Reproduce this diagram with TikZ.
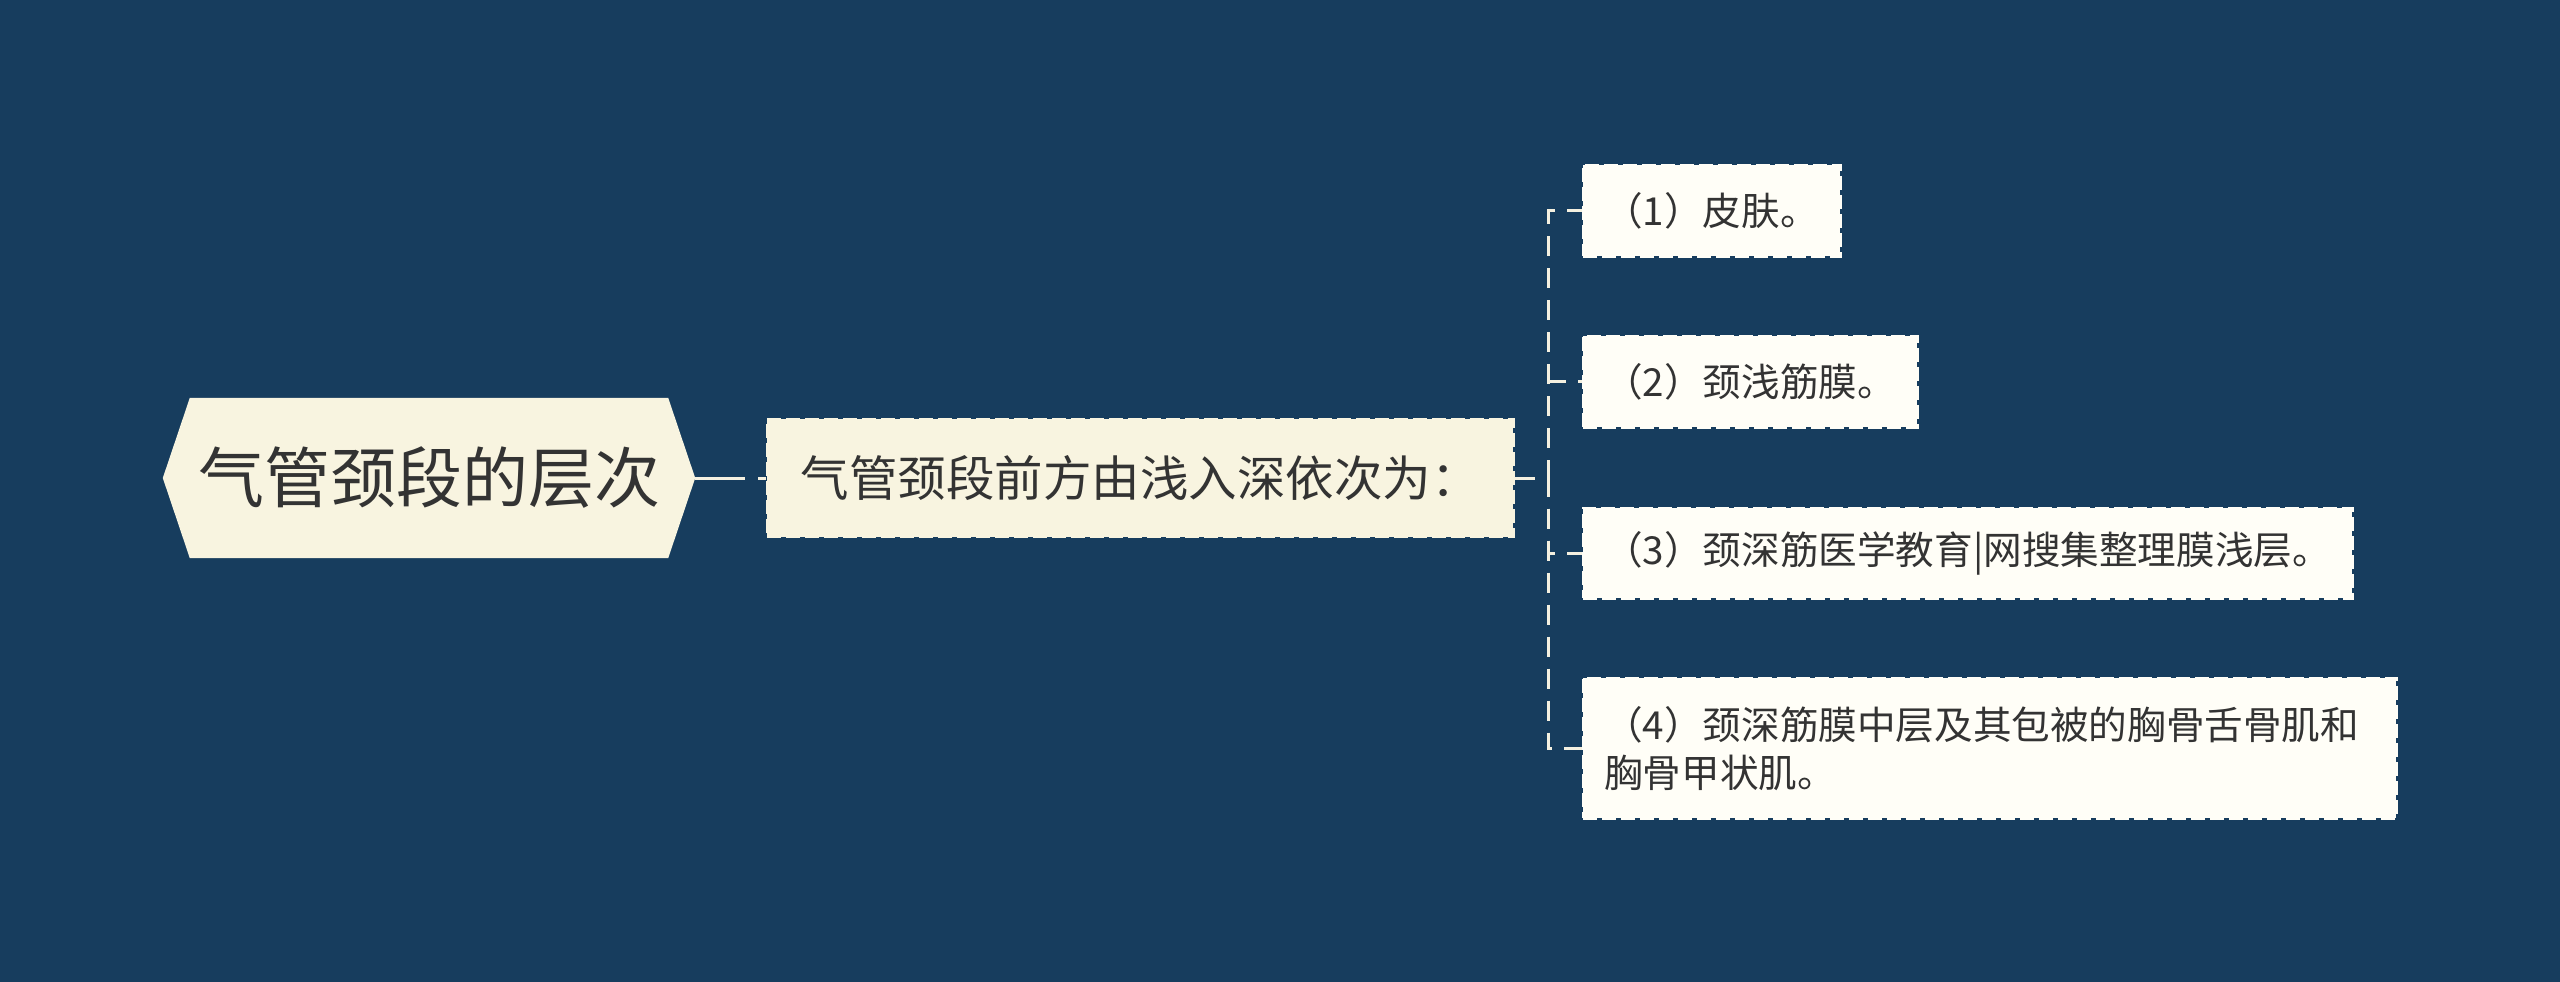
\documentclass[tikz,border=0pt]{standalone}
\usepackage{fontspec}
\setmainfont{Noto Sans CJK SC}
\usetikzlibrary{calc}
\definecolor{bgc}{HTML}{173D5E}
\definecolor{rootfill}{HTML}{F8F4E0}
\definecolor{leaffill}{HTML}{FFFEF7}
\definecolor{txt}{HTML}{333333}
\definecolor{linec}{HTML}{F4F0E0}
\pgfdeclarelayer{back}
\pgfsetlayers{back,main}
\tikzset{
  roottext/.style={inner sep=0pt, minimum width=532pt, minimum height=160pt, text=txt, font=\fontsize{66pt}{72pt}\selectfont},
  childbox/.style={draw=rootfill, fill=rootfill, line width=2.5pt, dash pattern=on 14pt off 5pt, inner sep=0pt, text=txt, font=\fontsize{48.5pt}{56pt}\selectfont},
  leafbox/.style={draw=leaffill, fill=leaffill, line width=2.5pt, dash pattern=on 14pt off 5pt, inner xsep=21pt, inner ysep=0pt, anchor=north west, align=left, text=txt, font=\fontsize{38.6pt}{48pt}\selectfont},
  conn/.style={draw=linec, line width=3pt, dash pattern=on 20pt off 12pt},
}
\begin{document}
\begin{tikzpicture}[x=1pt,y=-1pt]
\useasboundingbox (0,0) rectangle (2560,982);
\node[roottext] (root) at (429,478) {气管颈段的层次};
\begin{pgfonlayer}{back}
\fill[bgc] (0,0) rectangle (2560,982);
\fill[rootfill] (root.west) -- ([xshift=27pt]root.north west) -- ([xshift=-27pt]root.north east) -- (root.east) -- ([xshift=-27pt]root.south east) -- ([xshift=27pt]root.south west) -- cycle;
\end{pgfonlayer}
\node[childbox, minimum width=746pt, minimum height=118pt, anchor=west] (child) at (766,478) {气管颈段前方由浅入深依次为：};
\node[leafbox, minimum height=91pt, text width=215pt] (l1) at (1582,164) {（1）皮肤。};
\node[leafbox, minimum height=91pt, text width=292pt] (l2) at (1582,335) {（2）颈浅筋膜。};
\node[leafbox, minimum height=90pt, text width=727pt] (l3) at (1582,507) {（3）颈深筋医学教育|网搜集整理膜浅层。};
\node[leafbox, minimum height=140pt, text width=771pt] (l4) at (1582,677) {（4）颈深筋膜中层及其包被的胸骨舌骨肌和\\胸骨甲状肌。};
\coordinate (bus) at (1548,478);
\draw[draw=linec, line width=3pt, dash pattern=on 50pt off 13pt] (root.east) -- (child.west);
\foreach \l in {l1,l2,l3,l4}{
  \draw[conn] (child.east) -- (bus) -- (bus |- \l.west) -- (\l.west);
}
\end{tikzpicture}
\end{document}
